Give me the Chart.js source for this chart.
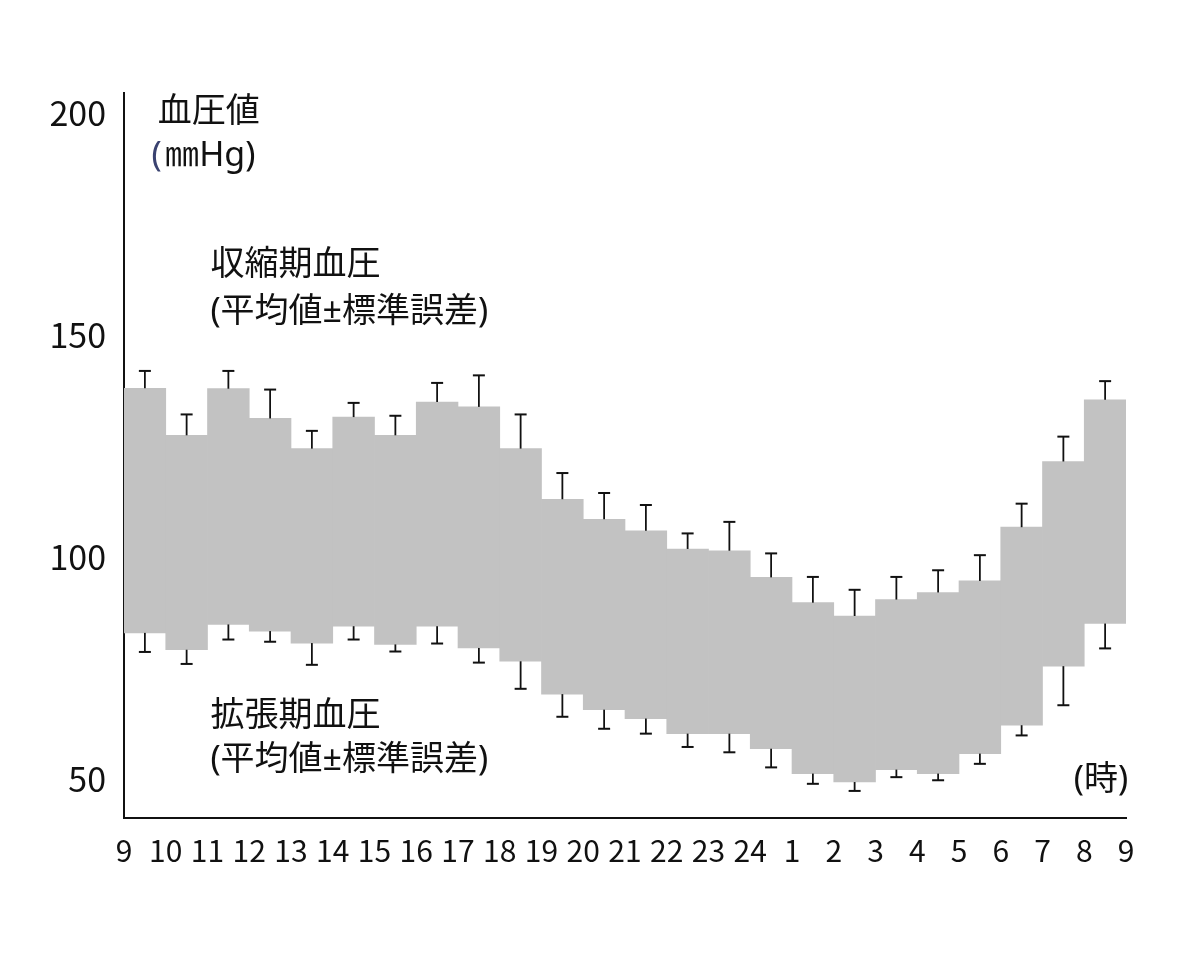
<!DOCTYPE html>
<html lang="ja">
<head>
<meta charset="utf-8">
<title>血圧値の日内変動</title>
<script src="https://cdn.jsdelivr.net/npm/chart.js@4.4.1/dist/chart.umd.min.js"></script>
<style>
  html, body { margin: 0; padding: 0; background: #fff; }
  #bpChart { display: block; }
</style>
</head>
<body>
<canvas id="bpChart" width="1200" height="960"></canvas>
<script>
// hour ticks along the time axis (boundaries between hourly slots)
const hourTicks = ['9', '10', '11', '12', '13', '14', '15', '16', '17', '18', '19', '20',
  '21', '22', '23', '24', '1', '2', '3', '4', '5', '6', '7', '8', '9'];
// one slot per hour
const slots = hourTicks.slice(0, -1).map((h, i) => h + '-' + hourTicks[i + 1]);

// systolic / diastolic mean and standard error (mmHg)
const systolicMean = [138.0, 127.4, 137.9, 131.2, 124.4, 131.5, 127.4, 134.9, 133.8, 124.4, 113.0, 108.5,
  105.9, 101.8, 101.4, 95.4, 89.7, 86.7, 90.4, 92.0, 94.6, 106.7, 121.5, 135.4];
const systolicSE = [3.9, 4.7, 4.0, 6.5, 4.0, 3.2, 4.4, 4.3, 7.1, 7.7, 5.9, 5.9,
  5.8, 3.5, 6.5, 5.4, 5.8, 5.9, 5.1, 5.0, 5.8, 5.3, 5.6, 4.2];
const diastolicMean = [82.9, 79.1, 84.8, 83.3, 80.6, 84.4, 80.3, 84.4, 79.5, 76.5, 69.1, 65.6,
  63.6, 60.2, 60.2, 56.8, 51.2, 49.3, 52.1, 51.2, 55.7, 62.1, 75.4, 85.0];
const diastolicSE = [4.3, 3.2, 3.4, 2.4, 4.9, 3.0, 1.6, 3.9, 3.3, 6.2, 5.1, 4.3,
  3.4, 3.0, 4.2, 4.2, 2.3, 2.0, 1.7, 1.5, 2.3, 2.3, 8.8, 5.6];

const yTicks = [50, 100, 150, 200];

// text notes placed in data coordinates (x in hours from the start, y in mmHg)
const notes = [
  { text: '血圧値', x: 0.81, y: 200.1 },
  { text: '(', x: 0.66, y: 190.2, color: '#3a4270' },
  { text: '㎜', x: 0.98, y: 190.2 },
  { text: 'Hg)', x: 1.8, y: 190.2 },
  { text: '収縮期血圧', x: 2.07, y: 165.7 },
  { text: '(平均値±標準誤差)', x: 2.07, y: 155.2 },
  { text: '拡張期血圧', x: 2.07, y: 64.0 },
  { text: '(平均値±標準誤差)', x: 2.07, y: 54.1 },
  { text: '(時)', x: 24.05, y: 49.7, align: 'right' }
];

const fontFamily = '"Noto Sans CJK JP", "Noto Sans", sans-serif';
const noteFamily = '"Noto Sans", "Noto Sans CJK JP", sans-serif';
Chart.defaults.font.family = fontFamily;
Chart.defaults.color = '#111';

const notesPlugin = {
  id: 'notes',
  afterDraw(chart) {
    const ctx = chart.ctx;
    const xs = chart.scales.xh;
    const ys = chart.scales.y;
    ctx.save();
    ctx.font = '34px ' + noteFamily;
    ctx.textBaseline = 'middle';
    notes.forEach(function(n) {
      ctx.fillStyle = n.color || '#111';
      ctx.textAlign = n.align || 'left';
      ctx.fillText(n.text, xs.getPixelForValue(n.x), ys.getPixelForValue(n.y));
    });
    ctx.restore();
  }
};

const band = systolicMean.map((s, i) => [diastolicMean[i], s]);
const upperBar = systolicMean.map((s, i) => [s, s + systolicSE[i]]);
const lowerBar = diastolicMean.map((d, i) => [d - diastolicSE[i], d]);
const upperCap = systolicMean.map((s, i) => s + systolicSE[i]);
const lowerCap = diastolicMean.map((d, i) => d - diastolicSE[i]);

const whisker = {
  type: 'bar',
  backgroundColor: '#111',
  barThickness: 1.8,
  grouped: false,
  inflateAmount: 0,
  order: 1
};
const cap = {
  type: 'line',
  showLine: false,
  pointStyle: 'line',
  pointRadius: 6,
  pointBorderWidth: 2,
  pointBorderColor: '#111',
  order: 0
};

const ctx = document.getElementById('bpChart').getContext('2d');
new Chart(ctx, {
  type: 'bar',
  data: {
    labels: slots,
    datasets: [
      Object.assign({ label: 'upper cap', data: upperCap }, cap),
      Object.assign({ label: 'lower cap', data: lowerCap }, cap),
      Object.assign({ label: 'upper SE', data: upperBar }, whisker),
      Object.assign({ label: 'lower SE', data: lowerBar }, whisker),
      {
        label: '血圧',
        data: band,
        backgroundColor: '#c2c2c2',
        borderWidth: 0,
        barPercentage: 1,
        categoryPercentage: 1,
        grouped: false,
        order: 2
      }
    ]
  },
  options: {
    responsive: false,
    devicePixelRatio: 1,
    animation: false,
    layout: { padding: { top: 93, right: 74, bottom: 0, left: 0 } },
    plugins: {
      legend: { display: false },
      tooltip: { enabled: false }
    },
    scales: {
      x: {
        type: 'category',
        display: false,
        offset: true
      },
      xh: {
        type: 'linear',
        position: 'bottom',
        offset: false,
        min: 0,
        max: 24,
        grid: { display: false, drawTicks: false, offset: false },
        border: { display: true, color: '#111', width: 2 },
        afterFit: function(scale) { scale.height = 142; },
        ticks: {
          stepSize: 1,
          autoSkip: false,
          maxRotation: 0,
          padding: 15,
          font: { size: 30 },
          callback: function(v) { return hourTicks[v]; }
        }
      },
      y: {
        min: 41.2,
        max: 204.5,
        grid: { display: false, drawTicks: false },
        border: { display: true, color: '#111', width: 2 },
        afterFit: function(scale) { scale.width = 124; },
        afterBuildTicks: function(scale) {
          scale.ticks = yTicks.map(v => ({ value: v }));
        },
        ticks: {
          padding: 18,
          font: { size: 34 }
        }
      }
    }
  },
  plugins: [notesPlugin]
});
</script>
</body>
</html>
